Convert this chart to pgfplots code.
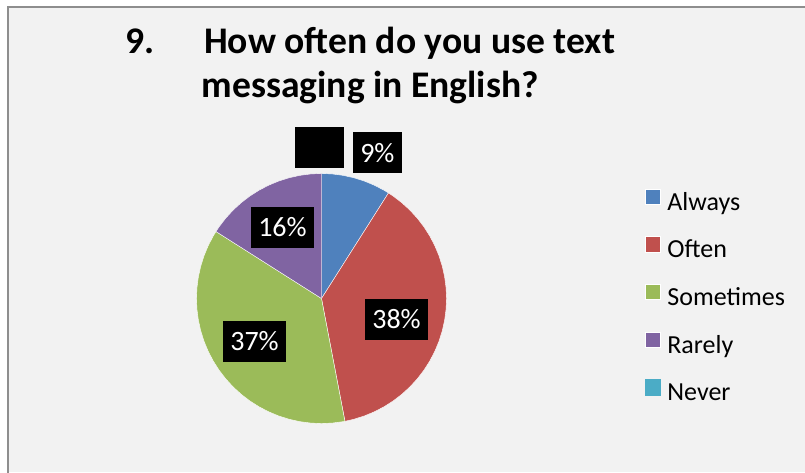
\documentclass[border=0pt]{standalone}
\usepackage{pgfplots}
\pgfplotsset{compat=1.18}
\usepgfplotslibrary{polar}
\usepackage{fontspec}
\setmainfont{Carlito}
\definecolor{cAlways}{HTML}{4F81BD}
\definecolor{cOften}{HTML}{C0504D}
\definecolor{cSometimes}{HTML}{9BBB59}
\definecolor{cRarely}{HTML}{8064A2}
\definecolor{cNever}{HTML}{4BACC6}
\definecolor{bgpanel}{HTML}{F2F2F2}
\definecolor{frame}{HTML}{8E8E8E}
\begin{document}
\begin{tikzpicture}[x=0.75pt,y=0.75pt]
\useasboundingbox (0,0) rectangle (805,472);
\fill[white] (0,0) rectangle (805,472);
\fill[bgpanel] (8,0) rectangle (805,464.5);
\draw[frame, line width=1.5pt] (8,-2) -- (8,464.5) -- (807,464.5);
% title
\node[anchor=base west, inner sep=0pt, font=\bfseries\fontsize{28.2}{33}\selectfont] at (125,418.5) {9.};
\node[anchor=base west, inner sep=0pt, font=\bfseries\fontsize{28.2}{33}\selectfont] at (204,418.5) {How often do you use text};
\node[anchor=base west, inner sep=0pt, font=\bfseries\fontsize{28.2}{33}\selectfont] at (201.5,374.3) {messaging in English?};
\begin{polaraxis}[
  at={(257.2,138.8)}, anchor=center,
  scale only axis, width=187.5pt, height=187.5pt,
  hide axis, clip=false,
  ymin=0, ymax=1,
  legend style={draw=none, fill=none, inner sep=0pt, outer sep=0pt,
    at={(1.792,0.9387)}, anchor=north west,
    font=\fontsize{19.5}{23}\selectfont,
    nodes={inner sep=0pt, text height=14pt, text depth=4pt},
    row sep=15.55pt, column sep=5.25pt, cells={anchor=west}},
  legend image code/.code={\fill[#1] (0pt,-0.5pt) rectangle (11.5pt,11pt);},
]
% Always 9%
\addplot[fill=cAlways, draw=white, line width=0.3pt] coordinates {
 (0,0) (90,1) (85,1) (80,1) (75,1) (70,1) (65,1) (60,1) (57.6,1) (0,0)};
\addlegendentry{Always}
% Often 38%
\addplot[fill=cOften, draw=white, line width=0.3pt] coordinates {
 (0,0) (57.6,1) (55,1) (50,1) (45,1) (40,1) (35,1) (30,1) (25,1) (20,1) (15,1)
 (10,1) (5,1) (0,1) (-5,1) (-10,1) (-15,1) (-20,1) (-25,1) (-30,1) (-35,1)
 (-40,1) (-45,1) (-50,1) (-55,1) (-60,1) (-65,1) (-70,1) (-75,1) (-79.2,1) (0,0)};
\addlegendentry{Often}
% Sometimes 37%
\addplot[fill=cSometimes, draw=white, line width=0.3pt] coordinates {
 (0,0) (280.8,1) (280,1) (275,1) (270,1) (265,1) (260,1) (255,1) (250,1) (245,1)
 (240,1) (235,1) (230,1) (225,1) (220,1) (215,1) (210,1) (205,1) (200,1) (195,1)
 (190,1) (185,1) (180,1) (175,1) (170,1) (165,1) (160,1) (155,1) (150,1) (147.6,1) (0,0)};
\addlegendentry{Sometimes}
% Rarely 16%
\addplot[fill=cRarely, draw=white, line width=0.3pt] coordinates {
 (0,0) (147.6,1) (145,1) (140,1) (135,1) (130,1) (125,1) (120,1) (115,1) (110,1)
 (105,1) (100,1) (95,1) (90,1) (0,0)};
\addlegendentry{Rarely}
% Never 0%
\addlegendimage{cNever}
\addlegendentry{Never}
% data labels
\node[fill=black, minimum width=36.75pt, minimum height=30.75pt, inner sep=0pt] at (axis cs:90.8,1.211) {};
\node[fill=black, text=white, minimum width=36.75pt, minimum height=30.75pt, inner sep=0pt, font=\fontsize{21}{25}\selectfont] at (axis cs:69.0,1.247) {9\%};
\node[fill=black, text=white, minimum width=47.25pt, minimum height=30.75pt, inner sep=0pt, font=\fontsize{21}{25}\selectfont] at (axis cs:-15.6,0.623) {38\%};
\node[fill=black, text=white, minimum width=47.25pt, minimum height=30.75pt, inner sep=0pt, font=\fontsize{21}{25}\selectfont] at (axis cs:212.6,0.636) {37\%};
\node[fill=black, text=white, minimum width=47.25pt, minimum height=30.75pt, inner sep=0pt, font=\fontsize{21}{25}\selectfont] at (axis cs:118.8,0.648) {16\%};
\end{polaraxis}
\end{tikzpicture}
\end{document}
